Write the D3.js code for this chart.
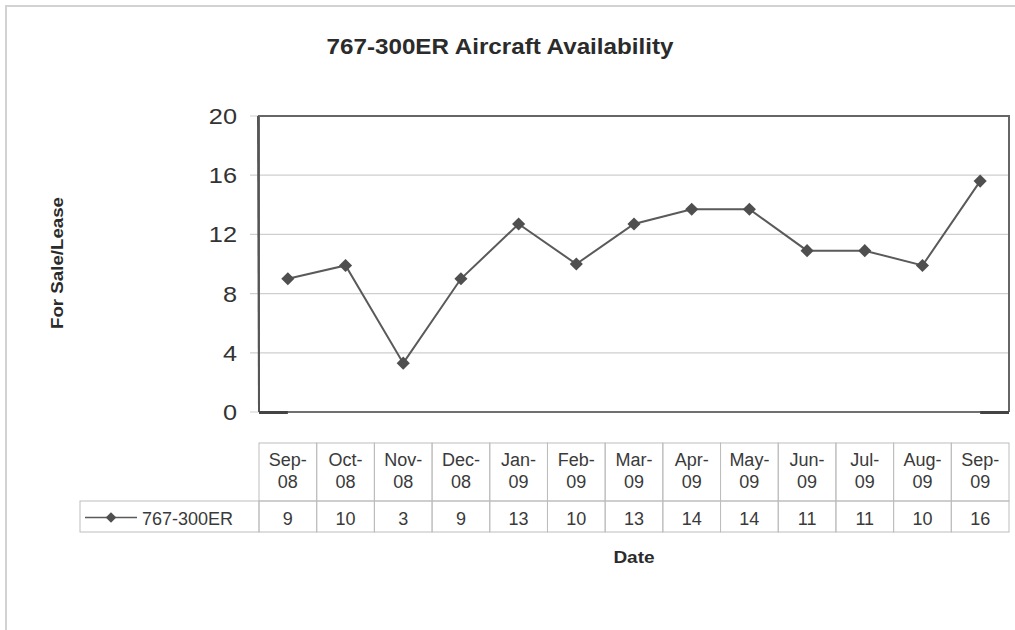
<!DOCTYPE html>
<html lang="en">
<head>
  <meta charset="UTF-8">
  <title>767-300ER Aircraft Availability</title>
  <style>
    body { margin: 0; background: #fff; }
    svg { font-family: "Liberation Sans", Arial, Helvetica, sans-serif; }
    .cell { fill: none; stroke: #bdbdbd; stroke-width: 1; }
    .tbl { font-size: 18px; fill: #3a3a3a; }
  </style>
</head>
<body>
  <div id="chart"></div>

  <script src="https://d3js.org/d3.v7.min.js"></script>
  <script>
    // data
    const months = ["Sep-08", "Oct-08", "Nov-08", "Dec-08", "Jan-09", "Feb-09", "Mar-09",
                    "Apr-09", "May-09", "Jun-09", "Jul-09", "Aug-09", "Sep-09"];
    const availability = [9, 9.9, 3.3, 9, 12.7, 10, 12.7, 13.7, 13.7, 10.9, 10.9, 9.9, 15.6];
    const tableValues = [9, 10, 3, 9, 13, 10, 13, 14, 14, 11, 11, 10, 16];
    const yTicks = [0, 4, 8, 12, 16, 20];
    const seriesName = "767-300ER";

    const width = 1015, height = 630;
    const plot = { left: 259, right: 1009, top: 116, bottom: 412 };

    const svg = d3.select("#chart").append("svg")
      .attr("width", width)
      .attr("height", height);

    // outer frame (only top and left edges show)
    svg.append("path")
      .attr("d", `M6,${height} V6 H${width}`)
      .attr("fill", "none")
      .attr("stroke", "#d2d2d2")
      .attr("stroke-width", 2);

    const x = d3.scaleBand().domain(months).range([plot.left, plot.right]);
    const y = d3.scaleLinear().domain([0, 20]).range([plot.bottom, plot.top]);
    const cx = d => x(d) + x.bandwidth() / 2;

    // title
    svg.append("text")
      .attr("transform", "translate(500,54) scale(1.1,1)")
      .attr("text-anchor", "middle")
      .style("font-size", "22px")
      .style("font-weight", "bold")
      .style("fill", "#2b2b2b")
      .text("767-300ER Aircraft Availability");

    // y axis label
    svg.append("text")
      .attr("transform", "translate(63,263) rotate(-90) scale(1.1,1)")
      .attr("text-anchor", "middle")
      .style("font-size", "17px")
      .style("font-weight", "bold")
      .style("fill", "#2b2b2b")
      .text("For Sale/Lease");

    // gridlines + tick marks
    svg.append("g")
      .selectAll("line")
      .data(yTicks)
      .join("line")
      .attr("x1", plot.left - 9)
      .attr("x2", plot.right)
      .attr("y1", d => y(d))
      .attr("y2", d => y(d))
      .attr("stroke", "#cfcfcf")
      .attr("stroke-width", 1.2);

    // tick labels
    svg.append("g")
      .selectAll("text")
      .data(yTicks)
      .join("text")
      .attr("transform", d => `translate(${plot.left - 22},${y(d) + 8}) scale(1.15,1)`)
      .attr("text-anchor", "end")
      .style("font-size", "22px")
      .style("fill", "#333")
      .text(d => d);

    // plot frame
    svg.append("path")
      .attr("d", `M${plot.left},${plot.bottom} V${plot.top} H${plot.right} V${plot.bottom}`)
      .attr("fill", "none")
      .attr("stroke", "#666")
      .attr("stroke-width", 2);
    svg.append("line")
      .attr("x1", plot.left).attr("x2", plot.right)
      .attr("y1", plot.bottom).attr("y2", plot.bottom)
      .attr("stroke", "#707070")
      .attr("stroke-width", 2);
    svg.append("line")
      .attr("x1", plot.left - 1).attr("x2", plot.left)
      .attr("y1", plot.top).attr("y2", plot.bottom)
      .attr("stroke", "#555")
      .attr("stroke-width", 2);
    // darker axis stubs at both ends
    [[plot.left, cx(months[0])], [cx(months[months.length - 1]), plot.right]].forEach(s => {
      svg.append("line")
        .attr("x1", s[0]).attr("x2", s[1])
        .attr("y1", plot.bottom + 0.5).attr("y2", plot.bottom + 0.5)
        .attr("stroke", "#444")
        .attr("stroke-width", 3);
    });

    // series line
    const line = d3.line()
      .x((d, i) => cx(months[i]))
      .y(d => y(d));
    svg.append("path")
      .datum(availability)
      .attr("d", line)
      .attr("fill", "none")
      .attr("stroke", "#5a5a5a")
      .attr("stroke-width", 2);

    const diamond = d3.symbol().type(d3.symbolDiamond2);
    svg.append("g")
      .selectAll("path")
      .data(availability)
      .join("path")
      .attr("d", diamond.size(110))
      .attr("transform", (d, i) => `translate(${cx(months[i])},${y(d)})`)
      .attr("fill", "#4f4f4f");

    // data table
    const tHead = { top: 443, bottom: 501 };
    const tRow = { top: 501, bottom: 532, left: 80 };
    const table = svg.append("g");

    table.selectAll("rect.head")
      .data(months)
      .join("rect")
      .attr("class", "cell head")
      .attr("x", d => x(d))
      .attr("y", tHead.top)
      .attr("width", x.bandwidth())
      .attr("height", tHead.bottom - tHead.top);

    table.selectAll("rect.val")
      .data(months)
      .join("rect")
      .attr("class", "cell val")
      .attr("x", d => x(d))
      .attr("y", tRow.top)
      .attr("width", x.bandwidth())
      .attr("height", tRow.bottom - tRow.top);

    table.append("rect")
      .attr("class", "cell")
      .attr("x", tRow.left)
      .attr("y", tRow.top)
      .attr("width", plot.left - tRow.left)
      .attr("height", tRow.bottom - tRow.top);

    const head = table.selectAll("text.head")
      .data(months)
      .join("text")
      .attr("class", "tbl head")
      .attr("text-anchor", "middle");
    head.append("tspan")
      .attr("x", d => cx(d))
      .attr("y", 466)
      .text(d => d.split("-")[0] + "-");
    head.append("tspan")
      .attr("x", d => cx(d))
      .attr("y", 488)
      .text(d => d.split("-")[1]);

    table.selectAll("text.val")
      .data(tableValues)
      .join("text")
      .attr("class", "tbl val")
      .attr("text-anchor", "middle")
      .attr("x", (d, i) => cx(months[i]))
      .attr("y", 525)
      .text(d => d);

    // legend key in the table
    const keyY = (tRow.top + tRow.bottom) / 2 + 1;
    table.append("line")
      .attr("x1", 85).attr("x2", 137)
      .attr("y1", keyY).attr("y2", keyY)
      .attr("stroke", "#5a5a5a")
      .attr("stroke-width", 1.5);
    table.append("path")
      .attr("d", diamond.size(70))
      .attr("transform", `translate(111,${keyY})`)
      .attr("fill", "#4f4f4f");
    table.append("text")
      .attr("class", "tbl")
      .attr("x", 142)
      .attr("y", 525)
      .text(seriesName);

    // x axis label
    svg.append("text")
      .attr("transform", "translate(634,563) scale(1.12,1)")
      .attr("text-anchor", "middle")
      .style("font-size", "17px")
      .style("font-weight", "bold")
      .style("fill", "#2b2b2b")
      .text("Date");
  </script>
</body>
</html>
